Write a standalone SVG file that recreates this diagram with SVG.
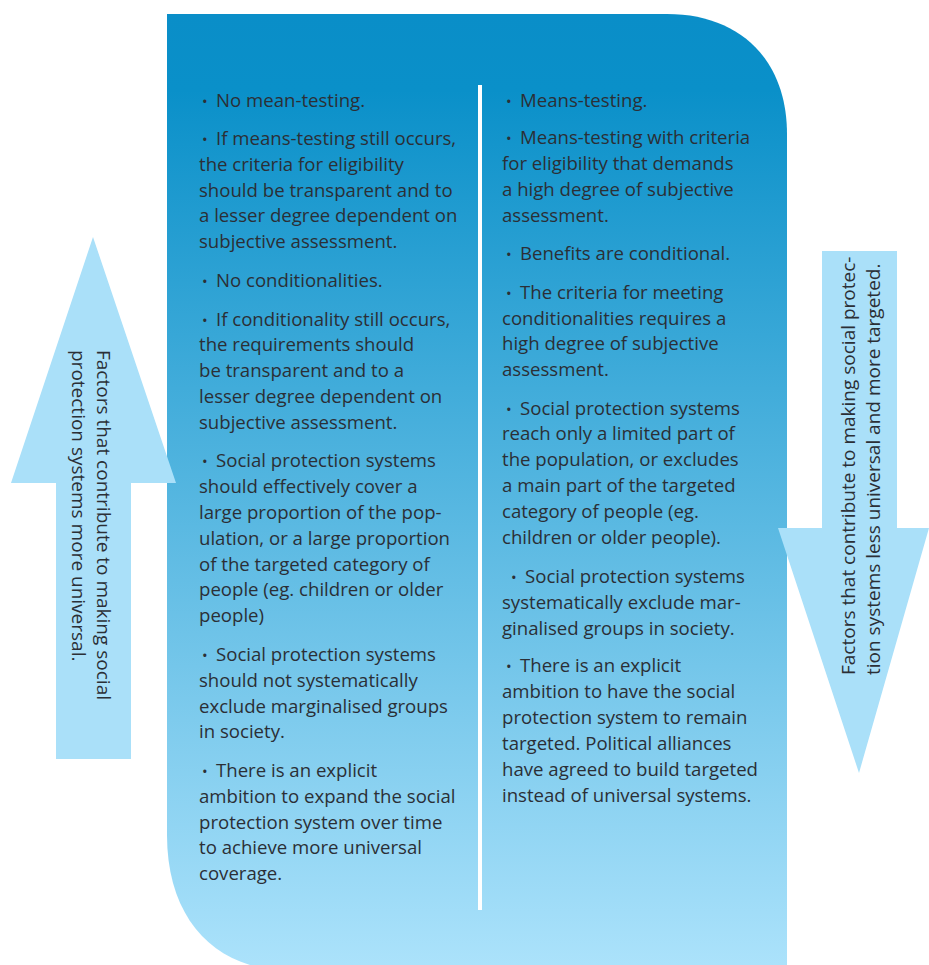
<svg xmlns="http://www.w3.org/2000/svg" width="929" height="965" viewBox="0 0 929 965">
<defs>
<linearGradient id="bg" x1="0" y1="14" x2="0" y2="965" gradientUnits="userSpaceOnUse">
<stop offset="0" stop-color="#0a8ec8"/>
<stop offset="0.08" stop-color="#0a90c9"/>
<stop offset="1" stop-color="#abe2fb"/>
</linearGradient>
</defs>
<style>
.t{font-family:"Open Sans","Noto Sans","DejaVu Sans",sans-serif;font-size:18.6px;fill:#2b2f36;}
.b{font-size:15px;}
.a{font-family:"Open Sans","Noto Sans","DejaVu Sans",sans-serif;font-size:19px;fill:#2b2f36;}
.arrow{fill:#aae0f9;}
</style>
<g id="panel">
<path d="M167,14 H667 C740,14 787,60 787,134 V965 H250 C200,950 167,905 167,835 Z" fill="url(#bg)"/>
</g>
<g id="connectors">
<rect x="478" y="85" width="4" height="825" fill="#ffffff"/>
</g>
<g id="arrow-up">
<polygon class="arrow" points="93,237 176,483 131,483 131,759 56,759 56,483 11,483"/>
<text class="a" transform="translate(97,350) rotate(90)">Factors that contribute to making social</text>
<text class="a" transform="translate(72,350) rotate(90)">protection systems more universal.</text>
</g>
<g id="arrow-down">
<polygon class="arrow" points="822,251 897,251 897,528 929,528 859,773 778,528 822,528"/>
<text class="a" transform="translate(855,675) rotate(-90)">Factors that contribute to making social protec-</text>
<text class="a" transform="translate(880,675) rotate(-90)">tion systems less universal and more targeted.</text>
</g>
<g id="left-column">
<text class="t" y="107"><tspan class="b" x="202">•</tspan><tspan x="216">No mean-testing.</tspan></text>
<text class="t" y="145"><tspan class="b" x="202">•</tspan><tspan x="216">If means-testing still occurs,</tspan></text>
<text class="t" x="199" y="171">the criteria for eligibility</text>
<text class="t" x="199" y="197">should be transparent and to</text>
<text class="t" x="199" y="222">a lesser degree dependent on</text>
<text class="t" x="199" y="248">subjective assessment.</text>
<text class="t" y="287"><tspan class="b" x="202">•</tspan><tspan x="216">No conditionalities.</tspan></text>
<text class="t" y="326"><tspan class="b" x="202">•</tspan><tspan x="216">If conditionality still occurs,</tspan></text>
<text class="t" x="199" y="351">the requirements should</text>
<text class="t" x="199" y="377">be transparent and to a</text>
<text class="t" x="199" y="403">lesser degree dependent on</text>
<text class="t" x="199" y="429">subjective assessment.</text>
<text class="t" y="467"><tspan class="b" x="202">•</tspan><tspan x="216">Social protection systems</tspan></text>
<text class="t" x="199" y="493">should effectively cover a</text>
<text class="t" x="199" y="519">large proportion of the pop-</text>
<text class="t" x="199" y="545">ulation, or a large proportion</text>
<text class="t" x="199" y="571">of the targeted category of</text>
<text class="t" x="199" y="596">people (eg. children or older</text>
<text class="t" x="199" y="622">people)</text>
<text class="t" y="661"><tspan class="b" x="202">•</tspan><tspan x="216">Social protection systems</tspan></text>
<text class="t" x="199" y="687">should not systematically</text>
<text class="t" x="199" y="713">exclude marginalised groups</text>
<text class="t" x="199" y="738">in society.</text>
<text class="t" y="777"><tspan class="b" x="202">•</tspan><tspan x="216">There is an explicit</tspan></text>
<text class="t" x="199" y="803">ambition to expand the social</text>
<text class="t" x="199" y="829">protection system over time</text>
<text class="t" x="199" y="854">to achieve more universal</text>
<text class="t" x="199" y="880">coverage.</text>
</g>
<g id="right-column">
<text class="t" y="107"><tspan class="b" x="506">•</tspan><tspan x="520">Means-testing.</tspan></text>
<text class="t" y="144"><tspan class="b" x="506">•</tspan><tspan x="520">Means-testing with criteria</tspan></text>
<text class="t" x="502" y="170">for eligibility that demands</text>
<text class="t" x="502" y="196">a high degree of subjective</text>
<text class="t" x="502" y="222">assessment.</text>
<text class="t" y="260"><tspan class="b" x="506">•</tspan><tspan x="520">Benefits are conditional.</tspan></text>
<text class="t" y="299"><tspan class="b" x="506">•</tspan><tspan x="520">The criteria for meeting</tspan></text>
<text class="t" x="502" y="325">conditionalities requires a</text>
<text class="t" x="502" y="350">high degree of subjective</text>
<text class="t" x="502" y="376">assessment.</text>
<text class="t" y="415"><tspan class="b" x="506">•</tspan><tspan x="520">Social protection systems</tspan></text>
<text class="t" x="502" y="440">reach only a limited part of</text>
<text class="t" x="502" y="466">the population, or excludes</text>
<text class="t" x="502" y="492">a main part of the targeted</text>
<text class="t" x="502" y="518">category of people (eg.</text>
<text class="t" x="502" y="544">children or older people).</text>
<text class="t" y="583"><tspan class="b" x="511">•</tspan><tspan x="525">Social protection systems</tspan></text>
<text class="t" x="502" y="609">systematically exclude mar-</text>
<text class="t" x="502" y="635">ginalised groups in society.</text>
<text class="t" y="672"><tspan class="b" x="506">•</tspan><tspan x="520">There is an explicit</tspan></text>
<text class="t" x="502" y="698">ambition to have the social</text>
<text class="t" x="502" y="724">protection system to remain</text>
<text class="t" x="502" y="750">targeted. Political alliances</text>
<text class="t" x="502" y="776">have agreed to build targeted</text>
<text class="t" x="502" y="802">instead of universal systems.</text>
</g>
</svg>
